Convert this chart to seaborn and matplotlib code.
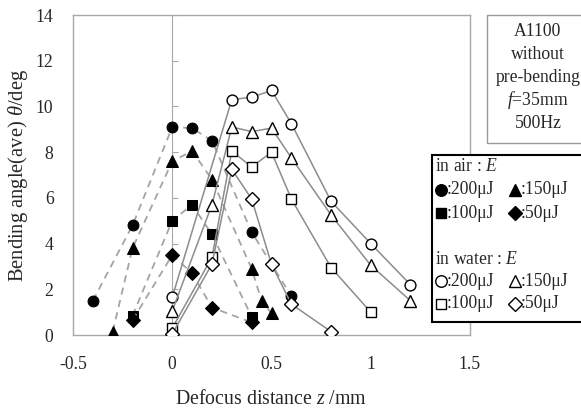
import matplotlib
matplotlib.use("Agg")
import matplotlib.pyplot as plt
import seaborn as sns
from matplotlib.patches import Rectangle
from matplotlib.lines import Line2D

# ---------------- data ----------------
air200_x = [-0.4, -0.2, 0.0, 0.1, 0.2, 0.4, 0.6]
air200_y = [1.5, 4.8, 9.1, 9.05, 8.5, 4.5, 1.7]
air150_x = [-0.3, -0.2, 0.0, 0.1, 0.2, 0.4, 0.45, 0.5]
air150_y = [0.15, 3.8, 7.6, 8.05, 6.8, 2.9, 1.5, 0.95]
air100_x = [-0.2, 0.0, 0.1, 0.2, 0.4]
air100_y = [0.85, 5.0, 5.7, 4.4, 0.8]
air50_x = [-0.2, 0.0, 0.1, 0.2, 0.4]
air50_y = [0.65, 3.5, 2.7, 1.2, 0.55]

wat200_x = [0.0, 0.3, 0.4, 0.5, 0.6, 0.8, 1.0, 1.2]
wat200_y = [1.65, 10.3, 10.4, 10.7, 9.25, 5.85, 4.0, 2.2]
wat150_x = [0.0, 0.2, 0.3, 0.4, 0.5, 0.6, 0.8, 1.0, 1.2]
wat150_y = [1.05, 5.7, 9.1, 8.9, 9.05, 7.75, 5.25, 3.05, 1.5]
wat100_x = [0.0, 0.2, 0.3, 0.4, 0.5, 0.6, 0.8, 1.0]
wat100_y = [0.3, 3.4, 8.05, 7.35, 8.0, 5.95, 2.95, 1.0]
wat50_x = [0.0, 0.2, 0.3, 0.4, 0.5, 0.6, 0.8]
wat50_y = [0.05, 3.1, 7.25, 5.95, 3.1, 1.35, 0.15]

energy_labels = [":200μJ", ":150μJ", ":100μJ", ":50μJ"]
x_ticks = [-0.5, 0, 0.5, 1, 1.5]
x_ticklabels = ["-0.5", "0", "0.5", "1", "1.5"]
y_ticks = [0, 2, 4, 6, 8, 10, 12, 14]
info_lines = ["A1100", "without", "pre-bending", "$f$=35mm", "500Hz"]

# ---------------- style ----------------
sns.set_style("white")
plt.rcParams["font.family"] = ["Liberation Serif", "DejaVu Serif"]
plt.rcParams["mathtext.fontset"] = "custom"
plt.rcParams["mathtext.rm"] = "Liberation Serif"
plt.rcParams["mathtext.it"] = "Liberation Serif:italic"
plt.rcParams["axes.unicode_minus"] = False

W, H = 581, 415
fig = plt.figure(figsize=(W / 100, H / 100), dpi=100)

def fx(x):
    return x / W

def fy(y):
    return 1 - y / H

ax = fig.add_axes([fx(73), fy(335), (470 - 73) / W, (335 - 15) / H])
ax.set_xlim(-0.5, 1.5)
ax.set_ylim(0, 14)

frame = "#a8a8a8"
air_line = "#a4a4a4"
wat_line = "#8c8c8c"
ms = 7.8

markers = ["o", "^", "s", "D"]
msizes = [ms, ms + 0.5, ms - 0.5, ms - 1.0]
air_sets = [(air200_x, air200_y), (air150_x, air150_y), (air100_x, air100_y), (air50_x, air50_y)]
wat_sets = [(wat200_x, wat200_y), (wat150_x, wat150_y), (wat100_x, wat100_y), (wat50_x, wat50_y)]

for (xs, ys), m, s in zip(air_sets, markers, msizes):
    sns.lineplot(x=xs, y=ys, ax=ax, color=air_line, linewidth=1.3,
                 linestyle=(0, (4, 3)), marker=m, markersize=s,
                 markerfacecolor="black", markeredgecolor="black", zorder=3)

for (xs, ys), m, s in zip(wat_sets, markers, msizes):
    sns.lineplot(x=xs, y=ys, ax=ax, color=wat_line, linewidth=1.1,
                 marker=m, markersize=s, markerfacecolor="white",
                 markeredgecolor="black", markeredgewidth=1.0, zorder=4)

for sp in ax.spines.values():
    sp.set_color(frame)
    sp.set_linewidth(1.0)

ax.set_xticks(x_ticks)
ax.set_xticklabels(x_ticklabels)
ax.set_yticks(y_ticks)
ax.tick_params(axis="x", direction="in", length=4, color=frame, labelsize=12.7, pad=15)
ax.tick_params(axis="y", length=0, labelsize=12.7, pad=14)

# vertical axis line at x = 0 with ticks
sec = ax.secondary_yaxis(0.25)
sec.spines["left"].set_color(frame)
sec.set_yticks(y_ticks)
sec.tick_params(axis="y", direction="in", length=4, color=frame, labelleft=False)

ax.set_xlabel("Defocus distance $z$ /mm", fontsize=14.3, labelpad=12)
ax.set_ylabel("Bending angle(ave) $\\theta$/deg", fontsize=14.8, labelpad=4)

# info box
fig.add_artist(Rectangle((fx(487), fy(143)), (590 - 487) / W, (143 - 15) / H,
                         transform=fig.transFigure, facecolor="white",
                         edgecolor="#999999", linewidth=1.0, zorder=10))
for i, t in enumerate(info_lines):
    fig.text(fx(538), fy(32 + 22.8 * i), t, ha="center", va="center",
             fontsize=12.7, zorder=11)

# legend box
fig.add_artist(Rectangle((fx(432), fy(322)), (590 - 432) / W, (322 - 155) / H,
                         transform=fig.transFigure, facecolor="white",
                         edgecolor="black", linewidth=1.5, zorder=10))
fig.text(fx(435), fy(166), "in air : $E$", ha="left", va="center", fontsize=12.7, zorder=11)
fig.text(fx(435), fy(259), "in water : $E$", ha="left", va="center", fontsize=12.7, zorder=11)

col_x = [441, 515]
rows_air = [190, 213]
rows_wat = [281, 304]
order = [(0, 0), (0, 1), (1, 0), (1, 1)]
for k, (r, c) in enumerate(order):
    for rows, filled in ((rows_air, True), (rows_wat, False)):
        fig.add_artist(Line2D([fx(col_x[c])], [fy(rows[r])], transform=fig.transFigure,
                              marker=markers[k], markersize=msizes[k] + 0.5, linestyle="none",
                              markerfacecolor="black" if filled else "white",
                              markeredgecolor="black", zorder=11))
        fig.text(fx(col_x[c] + 6), fy(rows[r]), energy_labels[k], ha="left",
                 va="center", fontsize=12.7, zorder=11)

fig.savefig("out.png", dpi=100)
